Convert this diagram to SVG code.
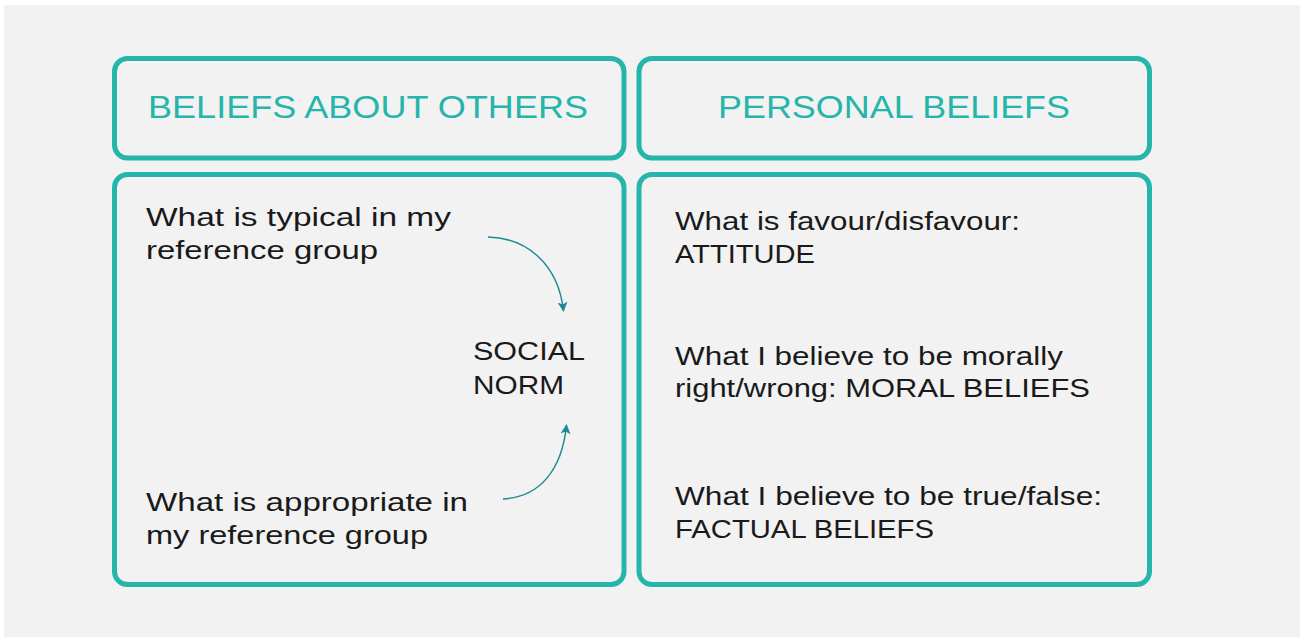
<svg xmlns="http://www.w3.org/2000/svg" width="1300" height="637" viewBox="0 0 1300 637">
<defs>
<style>
.box{fill:none;stroke:#25b5aa;stroke-width:5}
.hd{font-family:"Liberation Sans",Arial,sans-serif;font-size:32px;fill:#25b5aa}
.tx{font-family:"Liberation Sans",Arial,sans-serif;font-size:25px;fill:#1a1a1a}
.arr{fill:none;stroke:#1f8a94;stroke-width:1.5}
</style>
<marker id="ah" viewBox="0 0 10 10" refX="9" refY="5" markerWidth="10" markerHeight="10" markerUnits="userSpaceOnUse" orient="auto">
<path d="M0,0 L10,5 L0,10 L2.5,5 z" fill="#1f8a94"/>
</marker>
</defs>
<rect x="0" y="0" width="1300" height="637" fill="#ffffff"/>
<rect x="4" y="5" width="1296" height="632" fill="#f2f2f2"/>

<g id="header-others">
<rect class="box" x="114.5" y="58.5" width="509.5" height="99.5" rx="13"/>
<text class="hd" x="148" y="118" textLength="440" lengthAdjust="spacingAndGlyphs">BELIEFS ABOUT OTHERS</text>
</g>
<g id="header-personal">
<rect class="box" x="639" y="58.5" width="510.5" height="99.5" rx="13"/>
<text class="hd" x="718" y="117.5" textLength="352" lengthAdjust="spacingAndGlyphs">PERSONAL BELIEFS</text>
</g>

<g id="body-others">
<rect class="box" x="114.5" y="174.5" width="509.5" height="410" rx="13"/>
</g>
<g id="typical">
<text class="tx" x="146" y="226" textLength="305" lengthAdjust="spacingAndGlyphs">What is typical in my</text>
<text class="tx" x="146" y="258.5" textLength="232" lengthAdjust="spacingAndGlyphs">reference group</text>
</g>
<g id="appropriate">
<text class="tx" x="146" y="511" textLength="322" lengthAdjust="spacingAndGlyphs">What is appropriate in</text>
<text class="tx" x="146" y="543.5" textLength="282" lengthAdjust="spacingAndGlyphs">my reference group</text>
</g>
<g id="social-norm">
<text class="tx" x="473" y="360" textLength="112" lengthAdjust="spacingAndGlyphs">SOCIAL</text>
<text class="tx" x="473" y="393.5" textLength="91" lengthAdjust="spacingAndGlyphs">NORM</text>
</g>

<g id="body-personal">
<rect class="box" x="639" y="174.5" width="510.5" height="410" rx="13"/>
</g>
<g id="attitude">
<text class="tx" x="675" y="230" textLength="345" lengthAdjust="spacingAndGlyphs">What is favour/disfavour:</text>
<text class="tx" x="675" y="262.5" textLength="140" lengthAdjust="spacingAndGlyphs">ATTITUDE</text>
</g>
<g id="moral">
<text class="tx" x="675" y="364.5" textLength="388" lengthAdjust="spacingAndGlyphs">What I believe to be morally</text>
<text class="tx" x="675" y="396.5" textLength="415" lengthAdjust="spacingAndGlyphs">right/wrong: MORAL BELIEFS</text>
</g>
<g id="factual">
<text class="tx" x="675" y="504.5" textLength="427" lengthAdjust="spacingAndGlyphs">What I believe to be true/false:</text>
<text class="tx" x="675" y="537.5" textLength="259" lengthAdjust="spacingAndGlyphs">FACTUAL BELIEFS</text>
</g>

<g id="connectors">
<path class="arr" d="M488,237 C525,238 558,262 563.5,311" marker-end="url(#ah)"/>
<path class="arr" d="M503,499 C540,497 562,470 566.5,425" marker-end="url(#ah)"/>
</g>
</svg>
